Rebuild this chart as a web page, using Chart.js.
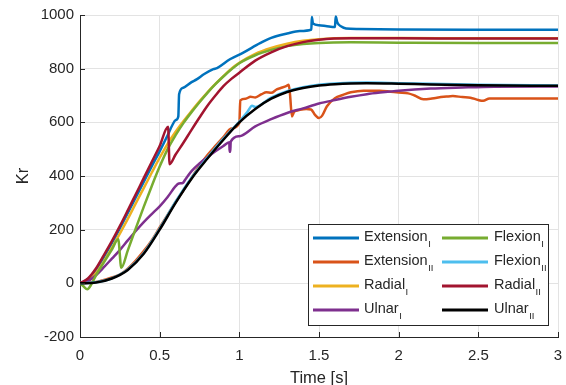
<!DOCTYPE html>
<html>
<head>
<meta charset="utf-8">
<script src="https://cdn.jsdelivr.net/npm/chart.js@4/dist/chart.umd.min.js"></script>
<style>
  html, body { margin: 0; padding: 0; background: #fff; overflow: hidden; }
  #wrap { width: 566px; height: 385px; overflow: hidden; }
</style>
</head>
<body>
<div id="wrap"><canvas id="grafico" width="566" height="392"></canvas></div>
<script>
// tick values
const xTicks = [0, 0.5, 1, 1.5, 2, 2.5, 3];
const yTicks = [-200, 0, 200, 400, 600, 800, 1000];

// legend names and subscripts
const seriesNames = ['Extension', 'Extension', 'Radial', 'Ulnar', 'Flexion', 'Flexion', 'Radial', 'Ulnar'];
const seriesSubs = ['I', 'II', 'I', 'I', 'I', 'II', 'II', 'II'];
const seriesColors = ['#0072BD', '#D95319', '#EDB120', '#7E2F8E', '#77AC30', '#4DBEEE', '#A2142F', '#000000'];

// Extension I
const tExtI = [0, 0.05, 0.1, 0.15, 0.2, 0.25, 0.3, 0.35, 0.4, 0.45, 0.5, 0.55, 0.58, 0.6, 0.617, 0.622, 0.648, 0.7, 0.732, 0.78, 0.837, 0.86, 0.941, 1.025, 1.13, 1.2, 1.3, 1.38, 1.452, 1.455, 1.462, 1.5, 1.55, 1.6, 1.605, 1.615, 1.64, 1.67, 1.75, 2.0, 2.5, 3.0];
const extI = [0, 15, 50, 98, 150, 205, 262, 320, 378, 436, 492, 552, 590, 608, 622, 705, 729, 750, 760, 780, 798, 802, 835, 860, 895, 915, 931, 940, 946, 993, 968, 962, 958, 955, 994, 972, 957, 950, 948, 946, 945, 945];

// Extension II
const tExtII = [0, 0.1, 0.2, 0.25, 0.3, 0.35, 0.4, 0.45, 0.5, 0.55, 0.6, 0.65, 0.7, 0.75, 0.8, 0.85, 0.9, 0.95, 1.0, 1.006, 1.04, 1.07, 1.1, 1.14, 1.17, 1.2, 1.235, 1.26, 1.297, 1.31, 1.318, 1.33, 1.345, 1.37, 1.42, 1.45, 1.475, 1.5, 1.52, 1.55, 1.6, 1.65, 1.7, 1.78, 1.88, 1.95, 2.0, 2.06, 2.1, 2.155, 2.2, 2.24, 2.3, 2.34, 2.4, 2.45, 2.5, 2.53, 2.57, 3.0];
const extII = [0, 5, 22, 33, 55, 85, 120, 160, 208, 255, 303, 348, 393, 438, 478, 512, 545, 577, 598, 682, 688, 695, 693, 705, 712, 710, 723, 728, 736, 740, 705, 622, 640, 645, 650, 648, 628, 616, 625, 660, 690, 702, 712, 718, 718, 714, 711, 708, 700, 686, 688, 692, 696, 698, 694, 692, 683, 680, 689, 689];

// Radial I
const tRadI = [0, 0.05, 0.1, 0.15, 0.2, 0.25, 0.3, 0.35, 0.4, 0.45, 0.5, 0.55, 0.6, 0.65, 0.7, 0.75, 0.8, 0.85, 0.9, 0.95, 1.0, 1.1, 1.2, 1.3, 1.4, 1.5, 1.7, 2.0, 2.5, 3.0];
const radI = [0, 8, 38, 82, 132, 185, 240, 298, 355, 412, 468, 520, 565, 605, 642, 678, 712, 743, 772, 800, 822, 855, 877, 893, 904, 910, 914, 914, 913, 913];

// Ulnar I
const tUlnI = [0, 0.05, 0.1, 0.15, 0.2, 0.25, 0.3, 0.35, 0.4, 0.45, 0.5, 0.55, 0.6, 0.62, 0.645, 0.66, 0.7, 0.75, 0.8, 0.85, 0.9, 0.937, 0.939, 0.943, 0.946, 1.0, 1.1, 1.2, 1.3, 1.4, 1.5, 1.6, 1.7, 1.8, 1.9, 2.0, 2.2, 2.4, 2.6, 3.0];
const ulnI = [0, 8, 30, 60, 92, 124, 160, 195, 228, 258, 287, 322, 362, 372, 374, 386, 418, 447, 470, 492, 512, 526, 490, 490, 528, 548, 585, 612, 635, 652, 670, 683, 695, 705, 712, 718, 726, 730, 733, 734];

// Flexion I
const tFlexI = [0, 0.02, 0.046, 0.07, 0.1, 0.15, 0.2, 0.24, 0.259, 0.3, 0.35, 0.4, 0.45, 0.5, 0.55, 0.6, 0.65, 0.7, 0.75, 0.8, 0.85, 0.9, 1.0, 1.1, 1.2, 1.3, 1.4, 1.5, 1.7, 2.0, 2.5, 3.0];
const flexI = [0, -10, -22, -5, 30, 78, 126, 164, 58, 123, 205, 285, 362, 435, 500, 552, 598, 638, 675, 710, 742, 771, 820, 850, 870, 884, 892, 896, 898, 897, 896, 896];

// Flexion II
const tFlexII = [0, 0.1, 0.2, 0.3, 0.4, 0.5, 0.6, 0.7, 0.8, 0.9, 1.0, 1.05, 1.08, 1.1, 1.2, 1.3, 1.4, 1.5, 1.6, 1.8, 2.0, 2.5, 3.0];
const flexII = [0, 4, 19, 52, 113, 204, 304, 394, 469, 539, 603, 638, 662, 657, 692, 716, 731, 740, 745, 748, 746, 740, 737];

// Radial II
const tRadII = [0, 0.05, 0.1, 0.15, 0.2, 0.25, 0.3, 0.35, 0.4, 0.45, 0.5, 0.553, 0.562, 0.6, 0.65, 0.7, 0.75, 0.8, 0.85, 0.9, 0.95, 1.0, 1.1, 1.2, 1.3, 1.4, 1.5, 1.7, 2.0, 2.5, 3.0];
const radII = [0, 18, 55, 105, 157, 213, 272, 332, 392, 452, 512, 584, 444, 480, 525, 572, 618, 662, 700, 735, 762, 785, 830, 861, 884, 899, 908, 913, 913, 912, 912];

// Ulnar II
const tUlnII = [0, 0.1, 0.2, 0.3, 0.4, 0.5, 0.6, 0.7, 0.8, 0.9, 1.0, 1.1, 1.2, 1.3, 1.4, 1.5, 1.6, 1.7, 1.8, 2.0, 2.2, 2.5, 3.0];
const ulnII = [0, 3, 18, 50, 110, 200, 300, 390, 465, 535, 600, 650, 688, 713, 728, 737, 742, 745, 746, 744, 741, 738, 736];

const tempos = [tExtI, tExtII, tRadI, tUlnI, tFlexI, tFlexII, tRadII, tUlnII];
const valores = [extI, extII, radI, ulnI, flexI, flexII, radII, ulnII];

const fonte = "'Liberation Sans', Arial, Helvetica, sans-serif";
const corTexto = '#262626';

// MATLAB style ticks pointing inside the axes
const ticksInternos = {
    id: 'ticksInternos',
    afterDraw(chart) {
        const { ctx, chartArea, scales } = chart;
        ctx.save();
        ctx.strokeStyle = corTexto;
        ctx.lineWidth = 1;
        ctx.beginPath();
        xTicks.forEach(v => {
            const px = Math.round(scales.x.getPixelForValue(v)) + 0.5;
            ctx.moveTo(px, chartArea.bottom);
            ctx.lineTo(px, chartArea.bottom - 5);
        });
        yTicks.forEach(v => {
            const py = Math.round(scales.y.getPixelForValue(v)) + 0.5;
            ctx.moveTo(chartArea.left, py);
            ctx.lineTo(chartArea.left + 5, py);
        });
        ctx.stroke();
        ctx.restore();
    }
};

// legend box with subscripts, two columns
const legendaMatlab = {
    id: 'legendaMatlab',
    afterDraw(chart) {
        const ctx = chart.ctx;
        const x0 = 308.5, y0 = 224.5, w = 240, h = 101;
        ctx.save();
        ctx.fillStyle = '#ffffff';
        ctx.fillRect(x0, y0, w, h);
        ctx.strokeStyle = corTexto;
        ctx.lineWidth = 1;
        ctx.strokeRect(x0, y0, w, h);
        chart.data.datasets.forEach((ds, i) => {
            const col = Math.floor(i / 4);
            const row = i % 4;
            const lx = x0 + 4.5 + col * 129;
            const ly = y0 + 13.5 + row * 24;
            ctx.strokeStyle = ds.borderColor;
            ctx.lineWidth = 3;
            ctx.beginPath();
            ctx.moveTo(lx, ly);
            ctx.lineTo(lx + 46, ly);
            ctx.stroke();
            ctx.fillStyle = corTexto;
            ctx.textBaseline = 'alphabetic';
            ctx.textAlign = 'left';
            ctx.font = `14.5px ${fonte}`;
            const tx = lx + 51 + col;
            ctx.fillText(seriesNames[i], tx, ly + 3);
            const tw = ctx.measureText(seriesNames[i]).width;
            ctx.font = `9.5px ${fonte}`;
            ctx.fillText(seriesSubs[i], tx + tw + 0.5, ly + 8.5);
        });
        ctx.restore();
    }
};

new Chart(document.getElementById('grafico'), {
    type: 'line',
    data: {
        datasets: valores.map((serie, i) => ({
            label: seriesNames[i] + '_' + seriesSubs[i],
            data: serie.map((v, k) => ({ x: tempos[i][k], y: v })),
            borderColor: seriesColors[i],
            backgroundColor: seriesColors[i],
            borderWidth: 2.5,
            pointRadius: 0,
            cubicInterpolationMode: 'monotone',
            fill: false,
            order: 8 - i
        }))
    },
    options: {
        responsive: false,
        animation: false,
        events: [],
        layout: { padding: { top: 15, right: 8, left: 0, bottom: 0 } },
        plugins: {
            legend: { display: false },
            tooltip: { enabled: false }
        },
        scales: {
            x: {
                type: 'linear',
                min: 0,
                max: 3,
                afterBuildTicks: scale => { scale.ticks = xTicks.map(v => ({ value: v })); },
                afterFit: scale => {
                    scale.height = 55;
                    scale.paddingLeft = 0;
                    scale.paddingRight = 0;
                },
                ticks: {
                    font: { family: fonte, size: 15 },
                    color: corTexto,
                    padding: 10,
                    maxRotation: 0,
                    autoSkip: false,
                    callback: v => String(v)
                },
                grid: { color: '#e3e3e3', drawTicks: false },
                border: { color: corTexto, width: 1 },
                title: {
                    display: true,
                    text: 'Time [s]',
                    font: { family: fonte, size: 16.5 },
                    color: corTexto,
                    padding: { top: 0, bottom: 3.5 }
                }
            },
            y: {
                type: 'linear',
                min: -200,
                max: 1000,
                afterBuildTicks: scale => { scale.ticks = yTicks.map(v => ({ value: v })); },
                afterFit: scale => { scale.width = 80; },
                ticks: {
                    font: { family: fonte, size: 15 },
                    color: corTexto,
                    padding: 6,
                    autoSkip: false,
                    callback: v => String(v)
                },
                grid: { color: '#e3e3e3', drawTicks: false },
                border: { color: corTexto, width: 1 },
                title: {
                    display: true,
                    text: 'Kr',
                    font: { family: fonte, size: 16.5 },
                    color: corTexto,
                    padding: { top: 14, bottom: 0 }
                }
            }
        }
    },
    plugins: [ticksInternos, legendaMatlab]
});
</script>
</body>
</html>
